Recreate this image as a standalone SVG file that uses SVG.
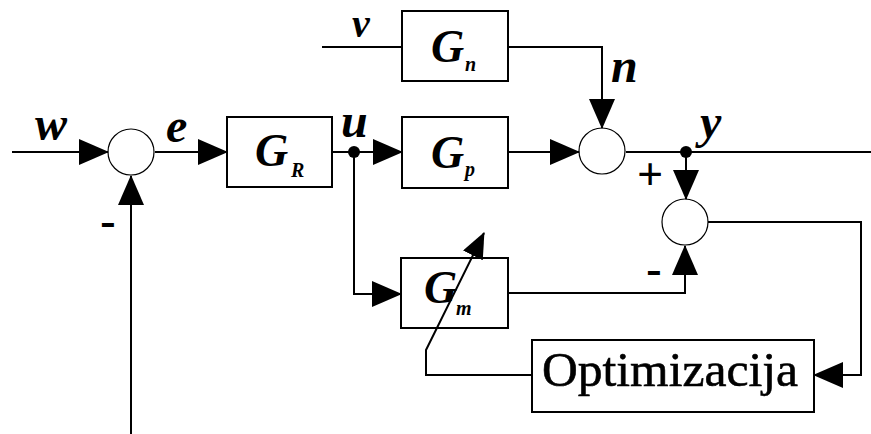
<svg xmlns="http://www.w3.org/2000/svg" width="871" height="434" viewBox="0 0 871 434">
<style>
.ln{fill:none;stroke:#000;stroke-width:2}
.box{fill:#fff;stroke:#000;stroke-width:2}
.sum{fill:#fff;stroke:#000;stroke-width:1.2}
svg text{font-family:"Liberation Serif",serif !important}
.it{font-weight:bold;font-style:italic}
</style>
<defs>
<marker id="ah" markerUnits="userSpaceOnUse" markerWidth="30" markerHeight="26" refX="29" refY="13" orient="auto">
<path d="M0,0 L30,13 L0,26 z" fill="#000"/>
</marker>
<marker id="ahs" markerUnits="userSpaceOnUse" markerWidth="26" markerHeight="22" refX="25" refY="11" orient="auto">
<path d="M0,0 L26,11 L0,22 z" fill="#000"/>
</marker>
</defs>
<g id="sum1"><circle class="sum" cx="131" cy="152" r="23"/></g>
<g id="sum2"><circle class="sum" cx="602" cy="151" r="23"/></g>
<g id="sum3"><circle class="sum" cx="685" cy="222" r="23"/></g>
<g id="GR">
<rect class="box" x="227" y="117" width="105" height="70"/>
<text class="it" x="255" y="166" font-family="Liberation Serif" font-weight="bold" font-style="italic" font-size="46">G</text>
<text class="it" x="291" y="177" font-family="Liberation Serif" font-weight="bold" font-style="italic" font-size="20">R</text>
</g>
<g id="Gn">
<rect class="box" x="402" y="11" width="106" height="70"/>
<text class="it" x="431" y="62" font-family="Liberation Serif" font-weight="bold" font-style="italic" font-size="46">G</text>
<text class="it" x="465" y="71" font-family="Liberation Serif" font-weight="bold" font-style="italic" font-size="20">n</text>
</g>
<g id="Gp">
<rect class="box" x="402" y="117" width="106" height="71"/>
<text class="it" x="431" y="168" font-family="Liberation Serif" font-weight="bold" font-style="italic" font-size="46">G</text>
<text class="it" x="465" y="176" font-family="Liberation Serif" font-weight="bold" font-style="italic" font-size="20">p</text>
</g>
<g id="Gm">
<rect class="box" x="401" y="258" width="107" height="70"/>
<text class="it" x="424" y="303" font-family="Liberation Serif" font-weight="bold" font-style="italic" font-size="46">G</text>
<text class="it" x="456" y="315" font-family="Liberation Serif" font-weight="bold" font-style="italic" font-size="20">m</text>
</g>
<g id="Opt">
<rect class="box" x="532" y="340" width="282" height="72"/>
<text x="670" y="386" font-family="Liberation Serif" font-size="49" fill="#000" stroke="#000" stroke-width="0.6" text-anchor="middle" textLength="256" lengthAdjust="spacingAndGlyphs">Optimizacija</text>
</g>
<g id="connectors">
<path class="ln" d="M12,152 H108" marker-end="url(#ah)"/>
<path class="ln" d="M155,152 H227" marker-end="url(#ah)"/>
<path class="ln" d="M332,152 H402" marker-end="url(#ah)"/>
<path class="ln" d="M508,152 H579" marker-end="url(#ah)"/>
<path class="ln" d="M626,152 H871"/>
<path class="ln" d="M322,47 H402"/>
<path class="ln" d="M508,47 H602 V128" marker-end="url(#ah)"/>
<path class="ln" d="M686,152 V199" marker-end="url(#ah)"/>
<path class="ln" d="M354,152 V294 H401" marker-end="url(#ah)"/>
<path class="ln" d="M508,293 H685 V246" marker-end="url(#ah)"/>
<path class="ln" d="M708,222 H861 V375 H814" marker-end="url(#ah)"/>
<path class="ln" d="M532,375 H426 V350 L484,233" marker-end="url(#ahs)"/>
<path class="ln" d="M131,434 V176" marker-end="url(#ah)"/>
<circle cx="354" cy="152" r="6" fill="#000"/>
<circle cx="686" cy="152" r="6" fill="#000"/>
</g>
<g id="labels">
<text class="it" x="35" y="140" font-family="Liberation Serif" font-weight="bold" font-style="italic" font-size="48">w</text>
<text class="it" x="166" y="142" font-family="Liberation Serif" font-weight="bold" font-style="italic" font-size="48">e</text>
<text class="it" x="341" y="137" font-family="Liberation Serif" font-weight="bold" font-style="italic" font-size="48">u</text>
<text class="it" x="352" y="37" font-family="Liberation Serif" font-weight="bold" font-style="italic" font-size="40">v</text>
<text class="it" x="611" y="82" font-family="Liberation Serif" font-weight="bold" font-style="italic" font-size="48">n</text>
<text class="it" x="700" y="138" font-family="Liberation Serif" font-weight="bold" font-style="italic" font-size="48">y</text>
<text x="650" y="190" font-family="Liberation Serif" font-weight="bold" font-size="46" text-anchor="middle">+</text>
<text x="654" y="284" font-family="Liberation Serif" font-weight="bold" font-size="46" text-anchor="middle">-</text>
<text x="108" y="236" font-family="Liberation Serif" font-weight="bold" font-size="46" text-anchor="middle">-</text>
</g>
</svg>
